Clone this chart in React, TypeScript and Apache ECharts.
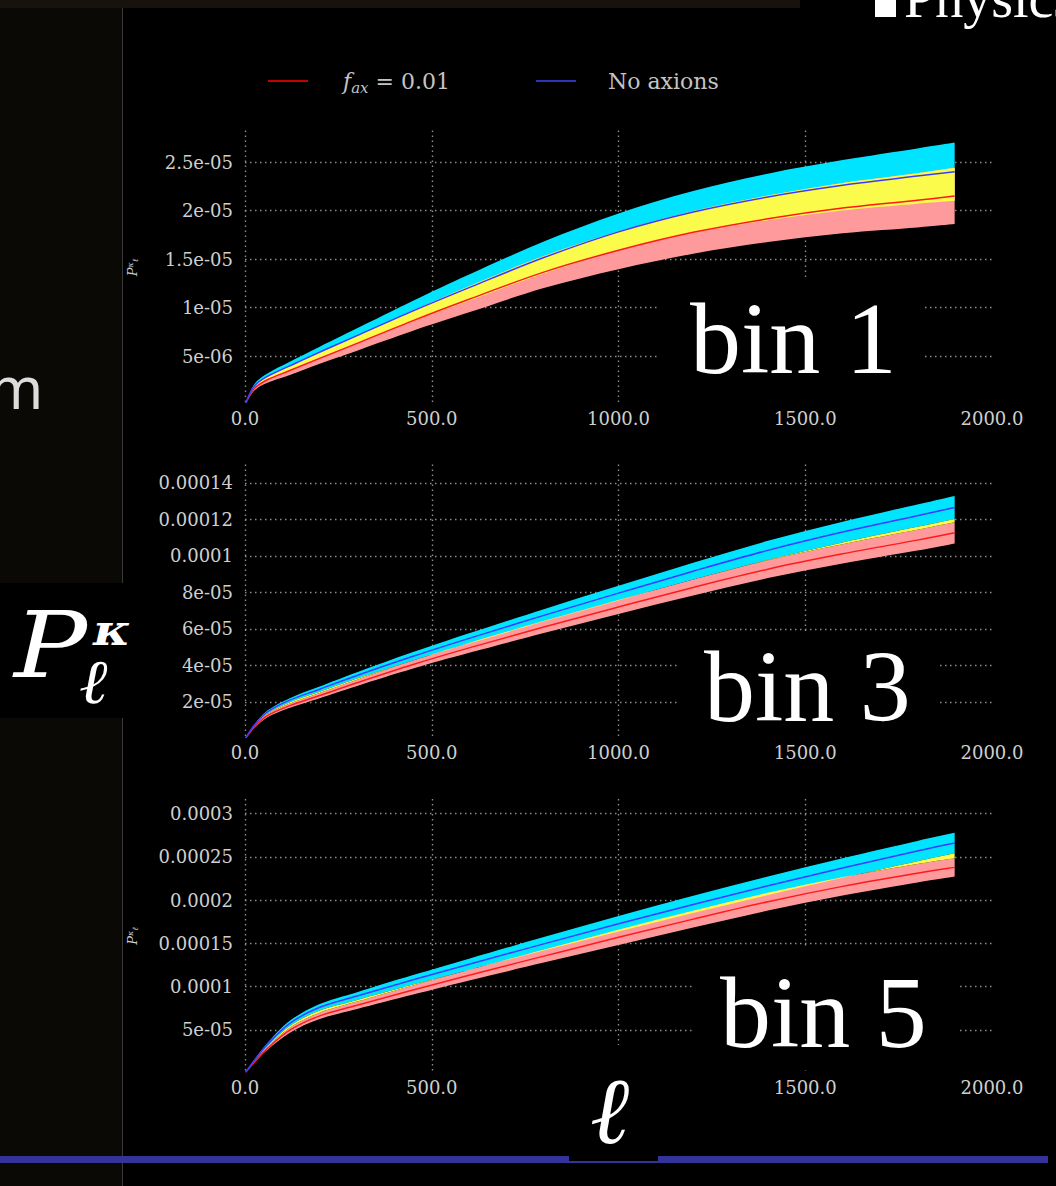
import React, { useEffect, useRef } from 'react';
import * as echarts from 'echarts';

// multipole sampling
const ell = [2, 25, 60, 120, 200, 300, 450, 600, 800, 1000, 1200, 1400, 1600, 1800, 1900];

// bin 1 spectra, units of 1e-6
const bin1NoAxion = [0.18, 1.9, 2.9, 3.98, 5.4, 7.1, 9.65, 12.05, 15.15, 17.8, 19.85, 21.4, 22.6, 23.55, 24.0];
const bin1NoAxionErr = [0.02, 0.2, 0.3, 0.42, 0.55, 0.75, 1.05, 1.35, 1.65, 1.9, 2.15, 2.4, 2.6, 2.85, 3.0];
const bin1Fax = [0.16, 1.65, 2.55, 3.5, 4.75, 6.3, 8.65, 10.85, 13.65, 15.9, 17.75, 19.15, 20.25, 21.05, 21.5];
const bin1FaxErr = [0.02, 0.2, 0.3, 0.45, 0.55, 0.75, 1.05, 1.35, 1.65, 1.95, 2.2, 2.4, 2.6, 2.8, 2.9];

// bin 3 spectra, units of 1e-5
const bin3NoAxion = [0.04, 0.72, 1.45, 2.1, 2.7, 3.45, 4.5, 5.48, 6.74, 7.96, 9.16, 10.3, 11.3, 12.2, 12.65];
const bin3NoAxionErr = [0.01, 0.05, 0.08, 0.11, 0.14, 0.17, 0.23, 0.28, 0.34, 0.4, 0.46, 0.52, 0.57, 0.61, 0.63];
const bin3Fax = [0.035, 0.62, 1.25, 1.8, 2.35, 3.05, 4.05, 4.96, 6.1, 7.2, 8.27, 9.27, 10.11, 10.86, 11.26];
const bin3FaxErr = [0.01, 0.05, 0.08, 0.11, 0.14, 0.17, 0.22, 0.27, 0.33, 0.38, 0.44, 0.49, 0.53, 0.57, 0.58];

// bin 5 spectra, units of 1e-5
const bin5NoAxion = [0.1, 1.45, 3.3, 5.75, 7.6, 8.9, 10.78, 12.58, 14.94, 17.26, 19.5, 21.66, 23.72, 25.68, 26.61];
const bin5NoAxionErr = [0.01, 0.08, 0.18, 0.3, 0.38, 0.45, 0.55, 0.65, 0.78, 0.9, 1.0, 1.08, 1.13, 1.17, 1.18];
const bin5Fax = [0.09, 1.25, 2.84, 4.95, 6.61, 7.83, 9.6, 11.32, 13.52, 15.7, 17.8, 19.82, 21.59, 23.11, 23.79];
const bin5FaxErr = [0.01, 0.07, 0.16, 0.28, 0.36, 0.43, 0.53, 0.62, 0.75, 0.88, 0.97, 1.03, 1.05, 1.06, 1.05];

// tick labels
const xTickLabels = ['0.0', '500.0', '1000.0', '1500.0', '2000.0'];
const bin1YTicks = ['5e-06', '1e-05', '1.5e-05', '2e-05', '2.5e-05'];
const bin3YTicks = ['2e-05', '4e-05', '6e-05', '8e-05', '0.0001', '0.00012', '0.00014'];
const bin5YTicks = ['5e-05', '0.0001', '0.00015', '0.0002', '0.00025', '0.0003'];

const binNames = ['bin 1', 'bin 3', 'bin 5'];

const COLORS = {
  cyan: '#00e4ff',
  pink: '#ff9a9c',
  yellow: '#fbfb4c',
  red: '#ff1a1a',
  blue: '#3b3bff',
};

type Panel = {
  noAx: number[];
  noAxErr: number[];
  fax: number[];
  faxErr: number[];
  unit: number;
  yMax: number;
  yStep: number;
  yTicks: string[];
  top: number;
  showName: boolean;
  hiddenX: number[]; // x tick values lying under the ℓ title box
};

const panels: Panel[] = [
  { noAx: bin1NoAxion, noAxErr: bin1NoAxionErr, fax: bin1Fax, faxErr: bin1FaxErr, unit: 1e-6, yMax: 2.825e-5, yStep: 5e-6, yTicks: bin1YTicks, top: 130.5, showName: true, hiddenX: [] },
  { noAx: bin3NoAxion, noAxErr: bin3NoAxionErr, fax: bin3Fax, faxErr: bin3FaxErr, unit: 1e-5, yMax: 1.5e-4, yStep: 2e-5, yTicks: bin3YTicks, top: 464.5, showName: false, hiddenX: [] },
  { noAx: bin5NoAxion, noAxErr: bin5NoAxionErr, fax: bin5Fax, faxErr: bin5FaxErr, unit: 1e-5, yMax: 3.17e-4, yStep: 5e-5, yTicks: bin5YTicks, top: 799, showName: true, hiddenX: [1000] },
];
const PANEL_H = 274;

// Catmull-Rom spline through screen points, as cubic Bezier segments
function spline(pts: number[][], start: 'M' | 'L'): string {
  let d = `${start}${pts[0][0]},${pts[0][1]}`;
  for (let i = 0; i < pts.length - 1; i++) {
    const p0 = pts[Math.max(i - 1, 0)];
    const p1 = pts[i];
    const p2 = pts[i + 1];
    const p3 = pts[Math.min(i + 2, pts.length - 1)];
    const c1x = p1[0] + (p2[0] - p0[0]) / 6;
    const c1y = p1[1] + (p2[1] - p0[1]) / 6;
    const c2x = p2[0] - (p3[0] - p1[0]) / 6;
    const c2y = p2[1] - (p3[1] - p1[1]) / 6;
    d += ` C${c1x},${c1y} ${c2x},${c2y} ${p2[0]},${p2[1]}`;
  }
  return d;
}

function bandSeries(idx: number, name: string, lower: number[], upper: number[], color: string, z: number) {
  return {
    type: 'custom',
    name,
    xAxisIndex: idx,
    yAxisIndex: idx,
    z,
    silent: true,
    data: ell.map((l, k) => [l, lower[k], upper[k]]),
    encode: { x: 0, y: [1, 2] },
    renderItem: (params: any, api: any) => {
      if (params.dataIndex !== 0) return null;
      const top = ell.map((l, k) => api.coord([l, upper[k]]));
      const bottom = ell.map((l, k) => api.coord([l, lower[k]])).reverse();
      const d = spline(top, 'M') + ' ' + spline(bottom, 'L') + ' Z';
      return { type: 'path', shape: { pathData: d }, style: { fill: color, stroke: null } };
    },
  };
}

function lineSeries(idx: number, name: string, values: number[], color: string, z: number) {
  return {
    type: 'custom',
    name,
    xAxisIndex: idx,
    yAxisIndex: idx,
    z,
    silent: true,
    itemStyle: { color },
    data: ell.map((l, k) => [l, values[k]]),
    encode: { x: 0, y: 1 },
    renderItem: (params: any, api: any) => {
      if (params.dataIndex !== 0) return null;
      const pts = ell.map((l, k) => api.coord([l, values[k]]));
      return {
        type: 'path',
        shape: { pathData: spline(pts, 'M') },
        style: { fill: null, stroke: color, lineWidth: 1.5 },
      };
    },
  };
}

const TICK_FONT = { fontFamily: 'DejaVu Serif', fontSize: 18, color: '#cfcfcf' };
const GRID_LINE = { color: '#8c8c8c', width: 1.4, type: [1.5, 3.5] as number[] };

function buildOption() {
  const grid: any[] = [];
  const xAxis: any[] = [];
  const yAxis: any[] = [];
  const series: any[] = [];

  panels.forEach((p, i) => {
    grid.push({ left: 245, right: 64, top: p.top, height: PANEL_H, containLabel: false });
    xAxis.push({
      type: 'value',
      gridIndex: i,
      min: 0,
      max: 2000,
      interval: 500,
      axisLine: { show: false },
      axisTick: { show: false },
      axisLabel: {
        ...TICK_FONT,
        margin: 5,
        showMaxLabel: true,
        formatter: (v: number) => (p.hiddenX.includes(v) ? '' : xTickLabels[Math.round(v / 500)] ?? ''),
      },
      splitLine: { show: true, showMinLine: true, showMaxLine: false, lineStyle: GRID_LINE },
    });
    yAxis.push({
      type: 'value',
      gridIndex: i,
      min: 0,
      max: p.yMax,
      interval: p.yStep,
      axisLine: { show: false },
      axisTick: { show: false },
      axisLabel: {
        ...TICK_FONT,
        margin: 12,
        showMinLabel: false,
        showMaxLabel: false,
        formatter: (v: number) => {
          const k = Math.round(v / p.yStep);
          return k >= 1 ? p.yTicks[k - 1] ?? '' : '';
        },
      },
      splitLine: { show: true, showMinLine: false, showMaxLine: false, lineStyle: GRID_LINE },
      name: p.showName ? '{p|P}{k|κ}{l|ℓ}' : '',
      nameLocation: 'middle',
      nameRotate: 90,
      nameGap: 106,
      nameTextStyle: {
        color: '#cfcfcf',
        rich: {
          p: { fontFamily: 'DejaVu Serif', fontStyle: 'italic', fontSize: 13, color: '#cfcfcf' },
          k: { fontFamily: 'DejaVu Serif', fontStyle: 'italic', fontSize: 8, color: '#cfcfcf', verticalAlign: 'top' },
          l: { fontFamily: 'DejaVu Serif', fontStyle: 'italic', fontSize: 8, color: '#cfcfcf', verticalAlign: 'bottom' },
        },
      },
    });

    const u = p.unit;
    const noAx = p.noAx.map((v) => v * u);
    const fax = p.fax.map((v) => v * u);
    const noAxLo = p.noAx.map((v, k) => (v - p.noAxErr[k]) * u);
    const noAxHi = p.noAx.map((v, k) => (v + p.noAxErr[k]) * u);
    const faxLo = p.fax.map((v, k) => (v - p.faxErr[k]) * u);
    const faxHi = p.fax.map((v, k) => (v + p.faxErr[k]) * u);

    series.push(bandSeries(i, 'noaxBand', noAxLo, noAxHi, COLORS.cyan, 2));
    series.push(bandSeries(i, 'faxBand', faxLo, faxHi, COLORS.pink, 3));
    // region between the upper edge of the axion band and the lower edge of the no-axion band
    series.push(bandSeries(i, 'between', faxHi, noAxLo, COLORS.yellow, 4));
    series.push(lineSeries(i, 'fax', fax, COLORS.red, 5));
    series.push(lineSeries(i, 'noax', noAx, COLORS.blue, 6));
  });

  const legendText = {
    color: '#c4c4c4',
    fontFamily: 'DejaVu Serif',
    fontSize: 22,
    rich: {
      g1: { width: 30 },
      g2: { width: 27 },
      f: { fontFamily: 'DejaVu Serif', fontStyle: 'italic', fontSize: 22, color: '#c4c4c4', lineHeight: 28 },
      s: { fontFamily: 'DejaVu Serif', fontStyle: 'italic', fontSize: 15, color: '#c4c4c4', verticalAlign: 'bottom', lineHeight: 15 },
      n: { fontFamily: 'DejaVu Serif', fontSize: 22, color: '#c4c4c4', lineHeight: 28 },
    },
  };
  const legendCommon = {
    top: 65,
    icon: 'rect',
    itemWidth: 40,
    itemHeight: 2,
    selectedMode: false,
    textStyle: legendText,
  };

  const bins = [
    { box: [660, 278, 264, 124], tx: 690, ty: 338 },
    { box: [677, 632, 263, 110], tx: 704, ty: 686 },
    { box: [695, 948, 264, 122], tx: 720, ty: 1012 },
  ];

  const centered = { verticalAlign: 'middle', textVerticalAlign: 'middle' };
  const graphic: any[] = [
    // slide surroundings
    { type: 'rect', z: -10, silent: true, shape: { x: 0, y: 0, width: 122, height: 1186 }, style: { fill: '#0b0906' } },
    { type: 'rect', z: -10, silent: true, shape: { x: 0, y: 0, width: 800, height: 8 }, style: { fill: '#17120b' } },
    { type: 'line', z: -9, silent: true, shape: { x1: 122.5, y1: 8, x2: 122.5, y2: 1186 }, style: { stroke: '#3a3a3a', lineWidth: 1 } },
    { type: 'rect', z: 40, silent: true, shape: { x: 0, y: 1156, width: 1048, height: 7 }, style: { fill: '#333399' } },
    { type: 'text', z: 40, silent: true, x: -11, y: 386, style: { text: 'm', fontFamily: 'Noto Sans', fontSize: 58, fill: '#dcdcdc', ...centered } },
    { type: 'rect', z: 40, silent: true, shape: { x: 875, y: 0, width: 21, height: 17 }, style: { fill: '#ffffff' } },
    { type: 'text', z: 40, silent: true, x: 904, y: -2, style: { text: 'Physics', fontFamily: 'Liberation Serif', fontSize: 56, fill: '#ffffff', ...centered } },
    // axis titles
    { type: 'rect', z: 50, silent: true, shape: { x: 0, y: 583, width: 123, height: 135 }, style: { fill: '#000000' } },
    { type: 'text', z: 51, silent: true, x: 14, y: 645, scaleX: 1.18, style: { text: 'P', fontFamily: 'DejaVu Serif', fontStyle: 'italic', fontSize: 92, fill: '#ffffff', ...centered } },
    { type: 'text', z: 51, silent: true, x: 93, y: 630, scaleX: 1.2, style: { text: 'κ', fontFamily: 'DejaVu Serif', fontStyle: 'italic', fontWeight: 'bold', fontSize: 42, fill: '#ffffff', ...centered } },
    { type: 'text', z: 51, silent: true, x: 79, y: 682, scaleX: 1.1, style: { text: 'ℓ', fontFamily: 'DejaVu Serif', fontStyle: 'italic', fontSize: 62, fill: '#ffffff', ...centered } },
    { type: 'rect', z: 50, silent: true, shape: { x: 569, y: 1045, width: 89, height: 116 }, style: { fill: '#000000' } },
    { type: 'text', z: 51, silent: true, x: 590, y: 1110, style: { text: 'ℓ', fontFamily: 'DejaVu Serif', fontStyle: 'italic', fontSize: 94, fill: '#ffffff', ...centered } },
  ];
  bins.forEach((b, i) => {
    graphic.push({ type: 'rect', z: 50, silent: true, shape: { x: b.box[0], y: b.box[1], width: b.box[2], height: b.box[3] }, style: { fill: '#000000' } });
    graphic.push({
      type: 'text', z: 51, silent: true, x: b.tx, y: b.ty,
      style: { text: binNames[i], fontFamily: 'Liberation Serif', fontSize: 102, lineHeight: 80, fill: '#ffffff', ...centered },
    });
  });

  return {
    animation: false,
    backgroundColor: '#000000',
    legend: [
      {
        ...legendCommon,
        left: 263,
        data: [{ name: 'fax', itemStyle: { color: '#c40000' } }],
        formatter: () => '{g1|}{f|f}{s|ax}{n| = 0.01}',
      },
      {
        ...legendCommon,
        left: 531,
        data: [{ name: 'noax', itemStyle: { color: '#2b35b8' } }],
        formatter: () => '{g2|}{n|No axions}',
      },
    ],
    grid,
    xAxis,
    yAxis,
    series,
    graphic: { elements: graphic },
  };
}

export default function App() {
  const ref = useRef<HTMLDivElement>(null);
  useEffect(() => {
    if (!ref.current) return;
    const chart = echarts.init(ref.current, undefined, { renderer: 'svg' });
    chart.setOption(buildOption() as any);
    return () => chart.dispose();
  }, []);
  return (
    <div
      ref={ref}
      style={{ position: 'absolute', left: 0, top: 0, width: 1056, height: 1186, background: '#000' }}
    />
  );
}
